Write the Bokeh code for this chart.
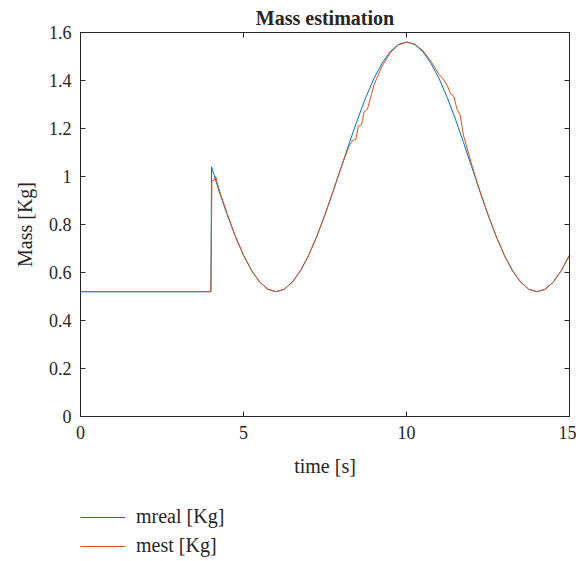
from bokeh.plotting import figure
from bokeh.layouts import column
from bokeh.models import Range1d, LinearAxis, FixedTicker, Legend, LegendItem
from bokeh.embed import file_html
from bokeh.resources import INLINE

t_real = [0, 4.0, 4.02, 4.25, 4.5, 4.75, 5.0, 5.25, 5.5, 5.75, 6.0, 6.25, 6.5, 6.75, 7.0,
          7.25, 7.5, 7.75, 8.0, 8.25, 8.5, 8.75, 9.0, 9.25, 9.5, 9.75, 10.0, 10.25, 10.5,
          10.75, 11.0, 11.25, 11.5, 11.75, 12.0, 12.25, 12.5, 12.75, 13.0, 13.25, 13.5,
          13.75, 14.0, 14.25, 14.5, 14.75, 15.0, 15.0]
m_real = [0.52, 0.52, 1.04, 0.939, 0.841, 0.751, 0.672, 0.608, 0.560, 0.530, 0.520, 0.530,
          0.560, 0.608, 0.672, 0.751, 0.841, 0.939, 1.04, 1.141, 1.239, 1.329, 1.408, 1.472,
          1.520, 1.550, 1.560, 1.550, 1.520, 1.472, 1.408, 1.329, 1.239, 1.141, 1.04, 0.939,
          0.841, 0.751, 0.672, 0.608, 0.560, 0.530, 0.520, 0.530, 0.560, 0.608, 0.672, 0.0]

t_est = [0, 4.0, 4.03, 4.1, 4.15, 4.2, 4.3, 4.5, 4.75, 5.0, 5.25, 5.5, 5.75, 6.0, 6.25, 6.5,
         6.75, 7.0, 7.25, 7.5, 7.75, 8.0, 8.25, 8.35, 8.45, 8.52, 8.62, 8.7, 8.8, 8.9, 9.0,
         9.25, 9.5, 9.75, 10.0, 10.25, 10.5, 10.75, 11.0, 11.1, 11.25, 11.35, 11.45, 11.55,
         11.65, 11.75, 12.0, 12.25, 12.5, 12.75, 13.0, 13.25, 13.5, 13.75, 14.0, 14.25, 14.5,
         14.75, 15.0, 15.0]
m_est = [0.52, 0.52, 0.98, 0.985, 1.0, 0.97, 0.925, 0.845, 0.751, 0.672, 0.608, 0.560, 0.530,
         0.520, 0.530, 0.560, 0.608, 0.672, 0.751, 0.841, 0.939, 1.04, 1.13, 1.15, 1.155, 1.21,
         1.215, 1.27, 1.28, 1.33, 1.38, 1.46, 1.515, 1.548, 1.56, 1.552, 1.525, 1.48, 1.425,
         1.41, 1.38, 1.345, 1.335, 1.28, 1.255, 1.17, 1.05, 0.939, 0.841, 0.751, 0.672, 0.608,
         0.560, 0.530, 0.520, 0.530, 0.560, 0.608, 0.672, 0.0]

x_ticks = [0, 5, 10, 15]
y_ticks = [0, 0.2, 0.4, 0.6, 0.8, 1.0, 1.2, 1.4, 1.6]
y_labels = ["0", "0.2", "0.4", "0.6", "0.8", "1", "1.2", "1.4", "1.6"]
series_names = ["mreal [Kg]", "mest [Kg]"]
series_colors = ["#0072BD", "#D95319"]
series_t = [t_real, t_est]
series_m = [m_real, m_est]

FONT = "Liberation Serif"
TXT = "#262626"

p = figure(width=576, height=488, output_backend="svg", toolbar_location=None,
           x_range=Range1d(0, 15), y_range=Range1d(0, 1.6),
           min_border_left=80, min_border_right=7, min_border_top=32, min_border_bottom=72,
           title="Mass estimation")
p.title.align = "center"
p.title.vertical_align = "top"
p.title.text_font = FONT
p.title.text_font_size = "20px"
p.title.text_font_style = "bold"
p.title.text_color = TXT
p.title.offset = 0
p.title.standoff = 4
p.grid.visible = False
p.outline_line_color = "#262626"
p.outline_line_width = 1

bottom = p.below[0]
left = p.left[0]
bottom.ticker = FixedTicker(ticks=x_ticks)
bottom.axis_label = "time [s]"
left.ticker = FixedTicker(ticks=y_ticks)
left.major_label_overrides = {t: l for t, l in zip(y_ticks, y_labels)}
left.axis_label = "Mass [Kg]"

top = LinearAxis(ticker=FixedTicker(ticks=x_ticks), major_label_text_color=None,
                 major_label_standoff=0)
right = LinearAxis(ticker=FixedTicker(ticks=y_ticks), major_label_text_color=None,
                   major_label_standoff=0)
p.add_layout(top, "above")
p.add_layout(right, "right")

for ax in [bottom, left, top, right]:
    ax.major_tick_in = 5
    ax.major_tick_out = 0
    ax.minor_tick_in = 0
    ax.minor_tick_out = 0
    ax.axis_line_color = "#262626"
    ax.major_tick_line_color = "#262626"

for ax in (bottom, left):
    ax.major_label_text_font = FONT
    ax.major_label_text_font_size = "18px"
    ax.major_label_text_color = TXT
    ax.major_label_standoff = 9
    ax.axis_label_text_font = FONT
    ax.axis_label_text_color = TXT
    ax.axis_label_text_font_style = "normal"
    ax.axis_label_text_font_size = "20px"
bottom.axis_label_standoff = 13
left.axis_label_standoff = 10

for t, m, col in zip(series_t, series_m, series_colors):
    p.line(t, m, line_color=col, line_width=1)

# legend strip below the plot (MATLAB-style legend placed under the axes)
lg = figure(width=576, height=73, output_backend="svg", toolbar_location=None,
            x_range=Range1d(100, 101), y_range=Range1d(100, 101),
            min_border_left=80, min_border_right=7, min_border_top=0, min_border_bottom=0)
lg.axis.visible = False
lg.grid.visible = False
lg.outline_line_color = None
items = []
for name, t, m, col in zip(series_names, series_t, series_m, series_colors):
    r = lg.line(t[:2], m[:2], line_color=col, line_width=1)
    items.append(LegendItem(label=name, renderers=[r]))
legend = Legend(items=items, location=(0, 4), orientation="vertical",
                border_line_color=None, background_fill_alpha=0,
                label_text_font=FONT, label_text_font_size="20px", label_text_color=TXT,
                glyph_width=45, glyph_height=20, label_standoff=11, spacing=6,
                margin=0, padding=0)
lg.add_layout(legend, "center")

layout = column(p, lg, spacing=0)
open("out.html", "w").write(file_html(layout, INLINE))
